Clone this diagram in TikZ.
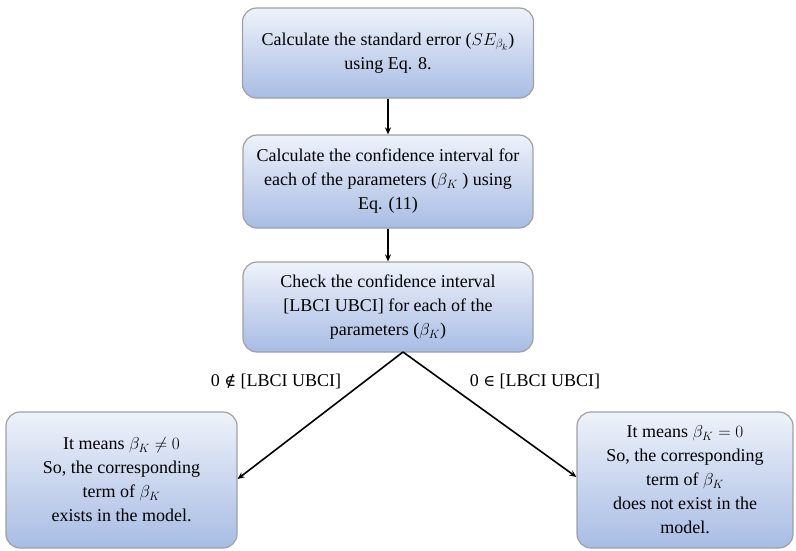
\documentclass[tikz,border=0pt]{standalone}
\usepackage{fontspec}
\setmainfont{Liberation Serif}
\newfontfamily\symfnt{DejaVu Serif}
\usetikzlibrary{arrows.meta}
\definecolor{boxtop}{HTML}{EEF2FA}
\definecolor{boxbot}{HTML}{A8BCE4}
\definecolor{boxline}{HTML}{A0A0A0}
\tikzset{
  flowbox/.style={draw=boxline, line width=1.2pt, rounded corners=14pt,
    top color=boxtop, bottom color=boxbot, align=center,
    font=\fontsize{18}{24}\selectfont, inner sep=3pt},
  conn/.style={line width=1.6pt, -{Stealth[length=7pt,width=6pt]}},
  lbl/.style={font=\fontsize{18}{22}\selectfont}
}
\begin{document}
\begin{tikzpicture}[x=1pt,y=-1pt]
\useasboundingbox (0,0) rectangle (796,550);
\node[flowbox, minimum width=291pt, minimum height=90pt] (b1) at (388,53)
  {Calculate the standard error ($SE_{\beta_k}$)\\using Eq. 8.};
\node[flowbox, minimum width=290pt, minimum height=93pt] (b2) at (388,181.5)
  {Calculate the confidence interval for\\each of the parameters ($\beta_K$ ) using\\Eq. (11)};
\node[flowbox, minimum width=290pt, minimum height=90pt] (b3) at (388,307)
  {Check the confidence interval\\\relax[LBCI UBCI] for each of the\\parameters ($\beta_K$)};
\node[flowbox, minimum width=231pt, minimum height=136pt] (bl) at (121.5,480)
  {It means $\beta_K \neq 0$\\So, the corresponding\\term of $\beta_K$\\exists in the model.};
\node[flowbox, minimum width=216pt, minimum height=136pt] (br) at (685,480)
  {It means $\beta_K = 0$\\So, the corresponding\\term of $\beta_K$\\does not exist in the\\model.};
\coordinate (apex) at (403,352);
\draw[conn] (b1.south) -- (b2.north);
\draw[conn] (b2.south) -- (b3.north);
\draw[conn] (apex) -- (bl.east |- 0,479);
\draw[conn] (apex) -- (br.west |- 0,477);
\node[lbl] (l1) at (276,381) {0 {\symfnt\fontsize{16}{22}\selectfont ∉} [LBCI UBCI]};
\node[lbl] (l2) at (535,381) {0 {\symfnt\fontsize{16}{22}\selectfont ∈} [LBCI UBCI]};
\end{tikzpicture}
\end{document}
